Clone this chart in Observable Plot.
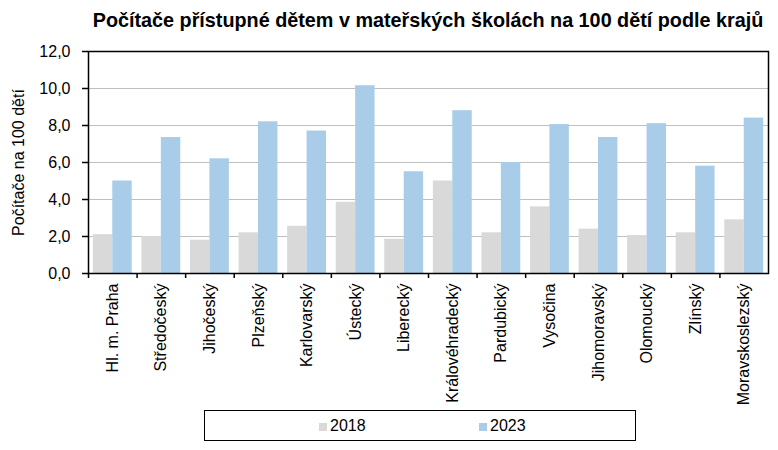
<!DOCTYPE html>
<html>
<head>
<meta charset="utf-8">
<script src="https://cdn.jsdelivr.net/npm/d3@7"></script>
<script src="https://cdn.jsdelivr.net/npm/@observablehq/plot@0.6"></script>
<style>
  html, body { margin: 0; padding: 0; background: #fff; }
  body { font-family: "Liberation Sans", Arial, sans-serif; width: 778px; height: 450px; position: relative; overflow: hidden; }
  #title { position: absolute; left: 88px; width: 680px; top: 0; height: 40px; line-height: 40px; text-align: center; font-weight: bold; font-size: 19.8px; color: #000; white-space: nowrap; }
  #chart { position: absolute; left: 0; top: 40px; }
  #legend { position: absolute; left: 204px; top: 410px; width: 430px; height: 29px; border: 1px solid #000; font-size: 16px; }
  .item { position: absolute; top: 0; height: 29px; line-height: 29px; }
  .sw { display: inline-block; width: 8px; height: 8px; margin-right: 3px; vertical-align: 0px; }
</style>
</head>
<body>
<div id="title">Počítače přístupné dětem v mateřských školách na 100 dětí podle krajů</div>
<div id="chart"></div>
<div id="legend"></div>
<script>
const regions = ["Hl. m. Praha","Středočeský","Jihočeský","Plzeňský","Karlovarský","Ústecký","Liberecký","Královéhradecký","Pardubický","Vysočina","Jihomoravský","Olomoucký","Zlínský","Moravskoslezský"];
const years = ["2018", "2023"];
const values2018 = [2.1, 2.0, 1.8, 2.2, 2.55, 3.85, 1.85, 5.0, 2.2, 3.6, 2.4, 2.05, 2.2, 2.9];
const values2023 = [5.0, 7.35, 6.2, 8.2, 7.7, 10.15, 5.5, 8.8, 6.0, 8.05, 7.35, 8.1, 5.8, 8.4];
const yTicks = [0, 2, 4, 6, 8, 10, 12];
const colors = ["#d9d9d9", "#a9cde8"];
const yLabel = "Počítače na 100 dětí";

const W = 778, H = 368, mL = 88, mR = 10, mT = 11, mB = 135;
const bw = (W - mL - mR) / regions.length;

const rows2018 = regions.map((r, i) => ({region: r, year: years[0], value: values2018[i]}));
const rows2023 = regions.map((r, i) => ({region: r, year: years[1], value: values2023[i]}));
const fmt = d => d.toFixed(1).replace(".", ",");

const chart = Plot.plot({
  width: W, height: H,
  marginLeft: mL, marginRight: mR, marginTop: mT, marginBottom: mB,
  style: {fontFamily: "'Liberation Sans', Arial, sans-serif", fontSize: "16px", color: "#000", background: "#fff"},
  x: {domain: regions, padding: 0, round: false, label: null},
  y: {domain: [0, 12], label: null},
  marks: [
    Plot.gridY(yTicks, {stroke: "#bfbfbf", strokeOpacity: 1, strokeWidth: 1}),
    Plot.barY(rows2018, {x: "region", y: "value", fill: colors[0], insetLeft: bw * 0.1, insetRight: bw * 0.5}),
    Plot.barY(rows2023, {x: "region", y: "value", fill: colors[1], insetLeft: bw * 0.5, insetRight: bw * 0.1}),
    Plot.ruleX(regions, {x: d => d, y1: 0, y2: 0, insetBottom: -5, dx: -bw / 2, stroke: "#000", strokeWidth: 1.5}),
    Plot.axisY(yTicks, {tickSize: 6, tickPadding: 12, tickFormat: fmt, fontSize: 16, label: null, stroke: "#000", strokeWidth: 1.5}),
    Plot.axisX({tickSize: 0, tickPadding: 10, tickRotate: -90, fontSize: 16, label: null}),
    Plot.frame({stroke: "#000", strokeWidth: 1.5}),
    Plot.text([yLabel], {frameAnchor: "left", textAnchor: "middle", dx: -70, rotate: -90, fontSize: 16, fill: "#000"})
  ]
});
document.getElementById("chart").appendChild(chart);

const legend = document.getElementById("legend");
const lefts = [114, 274];
years.forEach((y, i) => {
  const it = document.createElement("div");
  it.className = "item";
  it.style.left = lefts[i] + "px";
  it.innerHTML = `<span class="sw" style="background:${colors[i]}"></span>${y}`;
  legend.appendChild(it);
});
</script>
</body>
</html>
